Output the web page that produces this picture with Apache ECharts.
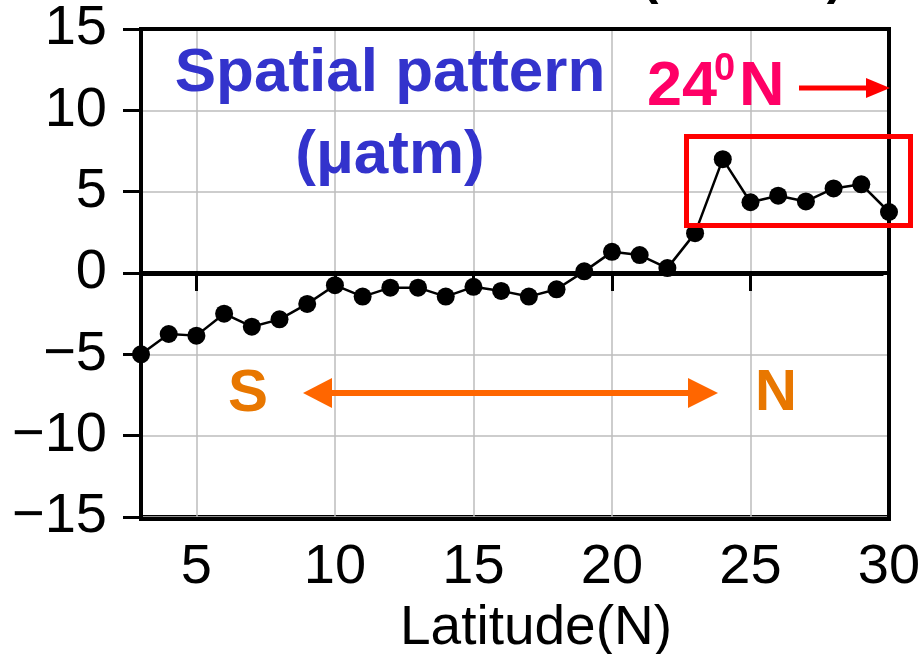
<!DOCTYPE html>
<html><head><meta charset="utf-8">
<script src="https://cdn.jsdelivr.net/npm/echarts@6/dist/echarts.min.js"></script>
<style>html,body{margin:0;padding:0;background:#fff}#c{width:918px;height:654px}</style>
</head><body><div id="c"></div>
<script>
const latitudes = [3,4,5,6,7,8,9,10,11,12,13,14,15,16,17,18,19,20,21,22,23,24,25,26,27,28,29,30];
const values = [-5.0,-3.75,-3.85,-2.5,-3.3,-2.85,-1.9,-0.75,-1.45,-0.9,-0.9,-1.45,-0.85,-1.1,-1.45,-1.0,0.1,1.3,1.1,0.3,2.45,7.0,4.35,4.75,4.4,5.2,5.45,3.75];
const xTicks = [5,10,15,20,25,30];
const yTicks = [-15,-10,-5,0,5,10,15];

const sans = "'Liberation Sans', Arial, sans-serif";
const bold = (s)=>"bold "+s+"px 'Liberation Sans', Arial, sans-serif";

const chart = echarts.init(document.getElementById('c'), null, {renderer:'canvas'});
chart.setOption({
  animation:false,
  backgroundColor:'#fff',
  grid:{left:141,right:29,top:29,bottom:137,containLabel:false,outerBoundsMode:'none',
    show:true,borderColor:'#000',borderWidth:4,backgroundColor:'transparent'},
  xAxis:{type:'value',min:3,max:30,
    name:'Latitude(N)',nameLocation:'middle',nameGap:54,
    nameTextStyle:{fontFamily:sans,fontSize:55,color:'#000',padding:[0,0,0,42]},
    axisLine:{lineStyle:{color:'#000',width:4}},
    axisTick:{show:true,inside:false,length:18,lineStyle:{color:'#000',width:3},customValues:xTicks},
    axisLabel:{customValues:xTicks,margin:23,fontFamily:sans,fontSize:56,color:'#000'},
    splitLine:{show:true,lineStyle:{color:'#bdbdbd',width:1.5}},
    z:3
  },
  yAxis:{type:'value',min:-15,max:15,interval:5,
    axisLine:{show:true,onZero:false,lineStyle:{color:'#000',width:4}},
    axisTick:{show:true,inside:false,length:18,lineStyle:{color:'#000',width:3}},
    axisLabel:{margin:34,fontFamily:sans,fontSize:56,color:'#000',
      customValues:yTicks,
      formatter:v=> (v<0? '\u2212'+Math.abs(v) : String(v))},
    splitLine:{show:true,lineStyle:{color:'#bdbdbd',width:1.5}},
    z:3
  },
  series:[{
    type:'line',
    data:latitudes.map((x,i)=>[x,values[i]]),
    symbol:'circle',symbolSize:18,
    itemStyle:{color:'#000'},
    lineStyle:{color:'#000',width:2.5},
    clip:false,
    markLine:{silent:true,symbol:'none',label:{show:false},
      lineStyle:{color:'#000',width:5,type:'solid'},
      data:[[{coord:[3,0]},{coord:[29.8,0]}]]},
    z:5
  }],
  graphic:[
    {type:'rect',shape:{x:141,y:29,width:748,height:490},style:{fill:'none',stroke:'#000',lineWidth:4},z:8},
    {type:'text',x:390,y:74,style:{text:'Spatial pattern',fill:'#3333cc',font:bold(62),align:'center',verticalAlign:'middle'},z:10},
    {type:'text',x:390,y:156,style:{text:'(\u03bcatm)',fill:'#3333cc',font:bold(62),align:'center',verticalAlign:'middle'},z:10},
    {type:'text',x:647,y:88,style:{text:'24',fill:'#ff0066',font:bold(63),align:'left',verticalAlign:'middle'},z:10},
    {type:'text',x:714,y:70,style:{text:'0',fill:'#ff0066',font:bold(38),align:'left',verticalAlign:'middle'},z:10},
    {type:'text',x:739,y:88,style:{text:'N',fill:'#ff0066',font:bold(63),align:'left',verticalAlign:'middle'},z:10},
    {type:'line',shape:{x1:799,y1:88,x2:868,y2:88},style:{stroke:'#ff0000',lineWidth:5},z:10},
    {type:'polygon',shape:{points:[[866,78],[890,88],[866,98]]},style:{fill:'#ff0000'},z:10},
    {type:'rect',shape:{x:686.5,y:136.5,width:224,height:89},style:{fill:'none',stroke:'#ff0000',lineWidth:5},z:10},
    {type:'text',x:248,y:394,style:{text:'S',fill:'#e87700',font:bold(60),align:'center',verticalAlign:'middle'},z:10},
    {type:'text',x:776,y:394,style:{text:'N',fill:'#e87700',font:bold(58),align:'center',verticalAlign:'middle'},z:10},
    {type:'line',shape:{x1:325,y1:393,x2:695,y2:393},style:{stroke:'#ff6600',lineWidth:6},z:10},
    {type:'polygon',shape:{points:[[303,393],[332,378],[332,408]]},style:{fill:'#ff6600'},z:10},
    {type:'polygon',shape:{points:[[718,393],[688,378],[688,408]]},style:{fill:'#ff6600'},z:10},
    {type:'text',x:650,y:-20,style:{text:'(',fill:'#000',font:bold(50),align:'center',verticalAlign:'middle'},z:10},
    {type:'text',x:835,y:-20,style:{text:')',fill:'#000',font:bold(50),align:'center',verticalAlign:'middle'},z:10}
  ]
});
</script></body></html>
